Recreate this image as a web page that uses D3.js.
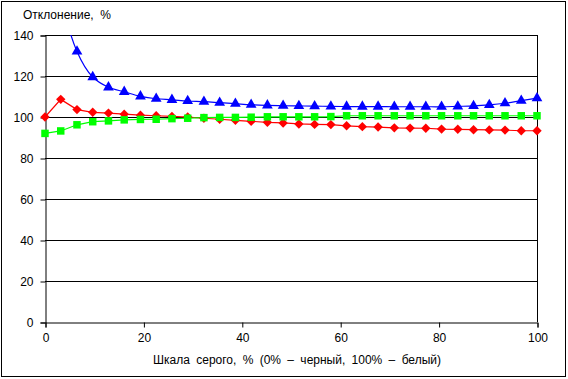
<!DOCTYPE html>
<html><head><meta charset="utf-8">
<script src="https://cdn.jsdelivr.net/npm/d3@7"></script>
<style>body{margin:0;background:#fff}svg{display:block;font-family:"Liberation Sans",Arial,sans-serif}</style>
</head><body><svg id="c" width="568" height="379"></svg>
<script>
const xValues = [0,3.2,6.5,9.7,12.9,16.1,19.4,22.6,25.8,29.0,32.3,35.5,38.7,41.9,45.2,48.4,51.6,54.8,58.1,61.3,64.5,67.7,71.0,74.2,77.4,80.6,83.9,87.1,90.3,93.5,96.8,100];
const blueValues = [230,160,132,119.5,114.5,112.3,110.1,108.9,108.4,107.8,107.5,107,106.5,106,105.7,105.5,105.4,105.3,105.2,105.1,105.1,105.1,105,105,105,105,105.2,105.4,105.9,106.7,108,109.2];
const redValues = [100,108.6,103.6,102.3,101.9,101.4,100.9,100.6,100.3,100.0,99.4,98.9,98.4,97.9,97.4,97.1,96.6,96.4,96.3,95.7,95.3,95.1,94.7,94.6,94.5,94.1,94.0,93.8,93.7,93.6,93.3,93.3];
const greenValues = [92,93.2,96.2,97.7,98.1,98.6,98.8,98.9,99.2,99.4,99.7,99.8,99.8,99.9,100.1,100.1,100.1,100.1,100.2,100.6,100.6,100.6,100.6,100.6,100.6,100.6,100.6,100.6,100.6,100.6,100.6,100.6];
const yTicks = [0,20,40,60,80,100,120,140];
const xTicks = [0,20,40,60,80,100];
const yTitle = "Отклонение,  %";
const xTitle = "Шкала серого, % (0% – черный, 100% – белый)";

const svg = d3.select("#c");
const L=45, R=537, T=35, B=322;
const x = d3.scaleLinear().domain([0,100]).range([L,R]);
const y = d3.scaleLinear().domain([0,140]).range([B,T]);

svg.append("rect").attr("x",1.5).attr("y",1.5).attr("width",564).attr("height",375)
  .attr("fill","#fff").attr("stroke","#000").attr("stroke-width",1);

svg.append("g").selectAll("line").data(yTicks.filter(d=>d>0)).join("line")
  .attr("x1",L).attr("x2",R).attr("y1",d=>Math.round(y(d))+0.5).attr("y2",d=>Math.round(y(d))+0.5)
  .attr("stroke","#000").attr("stroke-width",1);
svg.append("line").attr("x1",R+0.5).attr("x2",R+0.5).attr("y1",T).attr("y2",B).attr("stroke","#000");

const yAxis = svg.append("g").attr("transform",`translate(${L+0.5},0.5)`)
  .call(d3.axisLeft(y).tickValues(yTicks).tickSize(5).tickPadding(7));
const xAxis = svg.append("g").attr("transform",`translate(0.5,${B+0.5})`)
  .call(d3.axisBottom(x).tickValues(xTicks).tickSize(5).tickPadding(6));
[yAxis,xAxis].forEach(a=>{
  a.selectAll("path,line").attr("stroke","#000");
  a.selectAll("text").attr("font-size",12).attr("fill","#000").attr("font-family","Liberation Sans, Arial, sans-serif");
});

svg.append("clipPath").attr("id","pc").append("rect").attr("x",L-10).attr("y",T).attr("width",R-L+20).attr("height",B-T+10);

const series = [
  {vals: redValues, color:"#ff0000", shape:d3.symbolSquare, size:44, rot:45, curve:d3.curveLinear},
  {vals: greenValues, color:"#00ff00", shape:d3.symbolSquare, size:56, rot:0, curve:d3.curveLinear},
  {vals: blueValues, color:"#0000ff", shape:d3.symbolTriangle, size:50, rot:0, curve:d3.curveCatmullRom.alpha(0.5)}
];
const gplot = svg.append("g").attr("clip-path","url(#pc)");
series.forEach(s=>{
  const pts = xValues.map((xv,i)=>[xv,s.vals[i]]);
  gplot.append("path").datum(pts)
    .attr("d", d3.line().x(d=>x(d[0])).y(d=>y(d[1])).curve(s.curve))
    .attr("fill","none").attr("stroke",s.color).attr("stroke-width",1.2);
});
series.forEach(s=>{
  const pts = xValues.map((xv,i)=>[xv,s.vals[i]]).filter(d=>d[1]<=140);
  gplot.append("g").selectAll("path").data(pts).join("path")
    .attr("transform",d=>`translate(${x(d[0])},${y(d[1])}) rotate(${s.rot})`)
    .attr("d", d3.symbol().type(s.shape).size(s.size))
    .attr("fill",s.color);
});

svg.append("text").attr("x",23).attr("y",19).attr("font-size",12).attr("xml:space","preserve")
  .style("white-space","pre").text(yTitle);
svg.append("text").attr("x",297).attr("y",364).attr("text-anchor","middle").attr("font-size",12)
  .attr("word-spacing",3).text(xTitle);
</script></body></html>
